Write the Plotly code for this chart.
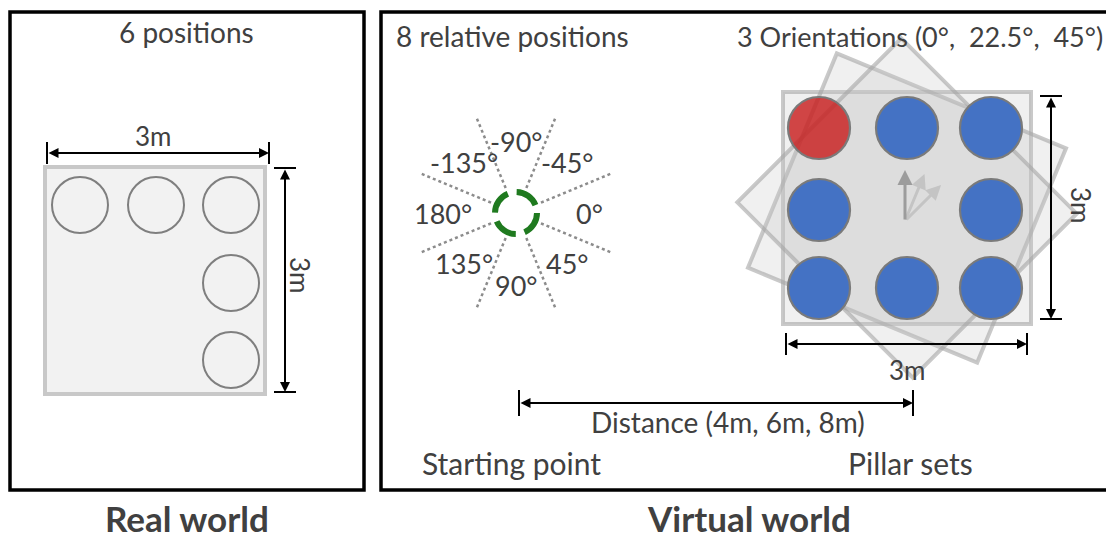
import numpy as np
import plotly.graph_objects as go

# ---------------- content ----------------
panel_titles = ["Real world", "Virtual world"]
headers = ["6 positions", "8 relative positions", "3 Orientations (0°,\u00a0 22.5°,\u00a0 45°)"]
angle_labels = ["0°", "45°", "90°", "135°", "180°", "-135°", "-90°", "-45°"]
angle_dirs = [0, 45, 90, 135, 180, 225, 270, 315]          # screen direction of each label
divider_dirs = [22.5, 67.5, 112.5, 157.5]                  # dotted dividers (full lines)
orientations = [0, 22.5, 45]                                # pillar-set rotations (deg)
real_cols = [0, 1, 2, 2, 2]                                 # real-world pillar grid cells
real_rows = [0, 0, 0, 1, 2]
virt_cols = [0, 1, 2, 0, 2, 0, 1, 2]                        # virtual pillar grid cells
virt_rows = [0, 0, 0, 1, 1, 2, 2, 2]
virt_colors = ["red", "blue", "blue", "blue", "blue", "blue", "blue", "blue"]
dim_labels = ["3m", "3m", "3m", "3m"]
distance_label = "Distance (4m, 6m, 8m)"
bottom_labels = ["Starting point", "Pillar sets"]

# ---------------- styling / geometry ----------------
W, H = 1106, 539
TXT = "#404040"
FONT = "Lato"
shapes, anns = [], []


def add_rect(x0, y0, x1, y1, line_color, line_width, fill="rgba(0,0,0,0)"):
    shapes.append(dict(type="rect", xref="x", yref="y", x0=x0, y0=y0, x1=x1, y1=y1,
                       line=dict(color=line_color, width=line_width), fillcolor=fill))


def add_line(x0, y0, x1, y1, color="black", width=2, dash="solid"):
    shapes.append(dict(type="line", xref="x", yref="y", x0=x0, y0=y0, x1=x1, y1=y1,
                       line=dict(color=color, width=width, dash=dash)))


def add_circle(cx, cy, r, line_color, line_width, fill="rgba(0,0,0,0)", dash="solid"):
    shapes.append(dict(type="circle", xref="x", yref="y", x0=cx - r, y0=cy - r, x1=cx + r, y1=cy + r,
                       line=dict(color=line_color, width=line_width, dash=dash), fillcolor=fill))


def add_text(x, y, s, size, bold=False, angle=0, color=TXT):
    anns.append(dict(x=x, y=y, xref="x", yref="y", text=f"<b>{s}</b>" if bold else s, showarrow=False,
                     xanchor="center", yanchor="middle", textangle=angle, borderpad=0,
                     font=dict(family=FONT, size=size, color=color)))


def add_arrow(x0, y0, x1, y1, color="black", width=2, both=True, head=2, size=1.0):
    anns.append(dict(x=x1, y=y1, ax=x0, ay=y0, xref="x", yref="y", axref="x", ayref="y", text="",
                     showarrow=True, arrowhead=head, arrowsize=size, arrowwidth=width,
                     arrowcolor=color, arrowside="end+start" if both else "end",
                     startarrowhead=head, startarrowsize=size, standoff=0, startstandoff=0))


def hdim(y, xa, xb, tick=11):
    add_arrow(xa, y, xb, y)
    add_line(xa, y - tick, xa, y + tick)
    add_line(xb, y - tick, xb, y + tick)


def vdim(x, ya, yb, tick=11):
    add_arrow(x, ya, x, yb)
    add_line(x - tick, ya, x + tick, ya)
    add_line(x - tick, yb, x + tick, yb)


# ---------------- panels ----------------
add_rect(10, 12, 364, 490, "black", 3.5)
add_rect(381, 12, 1112, 490, "black", 3.5)

# ---------------- real world ----------------
add_rect(45, 167, 265, 394, "#c8c8c8", 4, "#f2f2f2")
rc_x = [80, 156, 231]
rc_y = [205, 283, 360]
for c, r in zip(real_cols, real_rows):
    add_circle(rc_x[c], rc_y[r], 28, "#7f7f7f", 2)
hdim(153, 47, 269)
vdim(285, 168, 392)
add_text(153, 136, dim_labels[0], 26)
add_text(300, 275, dim_labels[1], 26, angle=90)
add_text(186, 32, headers[0], 28)
add_text(187, 518, panel_titles[0], 35, bold=True)

# ---------------- starting point ----------------
cx, cy = 516, 213
for d in divider_dirs:
    t = np.radians(d)
    for sgn in (1, -1):
        add_line(cx + sgn * 27 * np.cos(t), cy + sgn * 27 * np.sin(t),
                 cx + sgn * 103 * np.cos(t), cy + sgn * 103 * np.sin(t),
                 color="#8c8c8c", width=2.5, dash="dot")
add_circle(cx, cy, 21, "#1f7a1f", 6, dash="24px,9px")
for lab, d in zip(angle_labels, angle_dirs):
    t = np.radians(d)
    add_text(cx + 73 * np.cos(t), cy + 72 * np.sin(t), lab, 27)
add_text(512, 36, headers[1], 28)

# ---------------- pillar sets ----------------
px, py, ha, hb = 907, 208, 124, 116
for th in orientations:
    t = np.radians(th)
    pts = []
    for sx, sy in [(-1, -1), (1, -1), (1, 1), (-1, 1)]:
        x, y = sx * ha, sy * hb
        pts.append((px + x * np.cos(t) - y * np.sin(t), py + x * np.sin(t) + y * np.cos(t)))
    path = "M " + " L ".join(f"{x:.1f},{y:.1f}" for x, y in pts) + " Z"
    shapes.append(dict(type="path", xref="x", yref="y", path=path,
                       line=dict(color="rgba(165,165,165,0.6)", width=4),
                       fillcolor="rgba(200,200,200,0.27)"))

vc_x = [819, 907, 991]
vc_y = [128, 210, 288]
fills = {"red": "rgba(200,30,30,0.82)", "blue": "#4472c4"}
order = sorted(range(len(virt_cols)), key=lambda i: virt_colors[i] != "red")
for i in order:
    add_circle(vc_x[virt_cols[i]], vc_y[virt_rows[i]], 31, "#7a7a7a", 2.2, fills[virt_colors[i]])

arrow_cols = {0: "#9c9c9c", 22.5: "#c4c4c4", 45: "#c4c4c4"}
for th in orientations[::-1]:
    t = np.radians(th)
    add_arrow(905, 221, 905 + 51 * np.sin(t), 221 - 51 * np.cos(t),
              color=arrow_cols[th], width=3, both=False, head=2, size=1.0)

vdim(1051, 96, 319)
hdim(344, 786, 1027)
add_text(1081, 205, dim_labels[2], 26, angle=90)
add_text(907, 370, dim_labels[3], 26)
add_text(920, 36, headers[2], 27)

# ---------------- distance ----------------
hdim(403, 519, 913, tick=13)
add_text(728, 422, distance_label, 28)
add_text(511, 463, bottom_labels[0], 30)
add_text(910, 463, bottom_labels[1], 30)
add_text(749, 518, panel_titles[1], 35, bold=True)

fig = go.Figure(go.Scatter(x=[], y=[]))
fig.update_layout(
    width=W, height=H, margin=dict(l=0, r=0, t=0, b=0),
    paper_bgcolor="white", plot_bgcolor="white", showlegend=False,
    xaxis=dict(range=[0, W], visible=False, fixedrange=True),
    yaxis=dict(range=[H, 0], visible=False, fixedrange=True),
    shapes=shapes, annotations=anns,
)
fig.write_html("out.html", config={"displayModeBar": False},
               post_script="document.body.style.margin='0';document.body.style.overflow='hidden';")
